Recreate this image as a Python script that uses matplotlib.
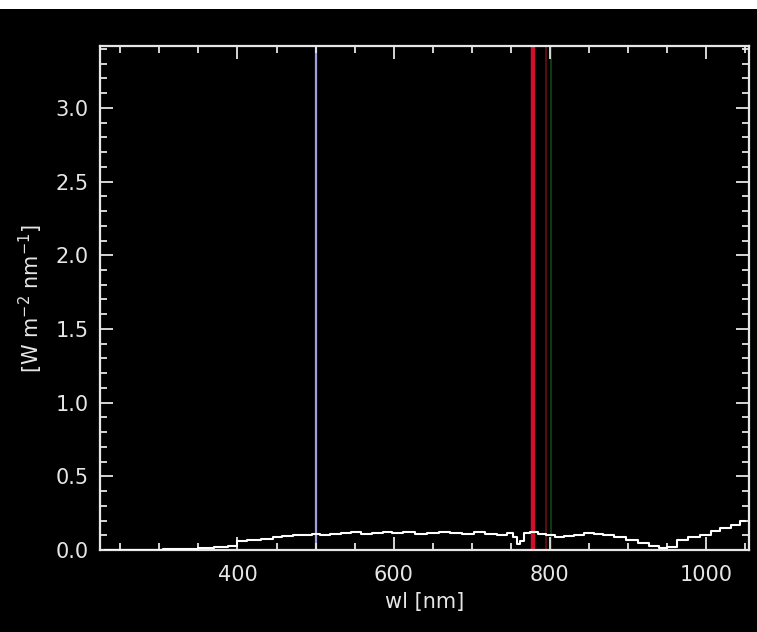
import matplotlib
matplotlib.use("Agg")
import matplotlib.pyplot as plt
from matplotlib.ticker import MultipleLocator
from matplotlib.patches import Rectangle

# Spectrum samples: wavelength [nm] and spectral irradiance [W m^-2 nm^-1]
wavelength = [230, 260, 290, 320, 340, 360, 380, 395, 405, 420, 440, 450, 465,
              478, 490, 500, 512, 525, 540, 552, 565, 580, 592, 605, 620, 635,
              650, 665, 680, 695, 710, 725, 740, 750, 756, 760, 764, 770, 780,
              790, 800, 812, 825, 838, 850, 862, 875, 890, 905, 920, 935, 945,
              955, 970, 985, 1000, 1012, 1025, 1038, 1050]
irradiance = [0.0, 0.0, 0.002, 0.005, 0.01, 0.015, 0.02, 0.03, 0.06, 0.065,
              0.075, 0.09, 0.095, 0.10, 0.105, 0.11, 0.105, 0.11, 0.115, 0.12,
              0.11, 0.115, 0.12, 0.115, 0.12, 0.11, 0.115, 0.12, 0.115, 0.11,
              0.12, 0.11, 0.105, 0.115, 0.09, 0.04, 0.06, 0.115, 0.12, 0.11,
              0.10, 0.09, 0.095, 0.105, 0.115, 0.11, 0.105, 0.085, 0.07, 0.05,
              0.03, 0.015, 0.02, 0.07, 0.09, 0.10, 0.13, 0.15, 0.17, 0.20]

# Marker wavelengths and their colours
marker_wl = [500, 778, 795, 802]
marker_colors = ["#a0a0e0", "#d0102a", "#5a0a14", "#0a3a14"]
marker_widths = [1.6, 3.2, 1.5, 1.5]

x_ticks = [400, 600, 800, 1000]
y_ticks = [0.0, 0.5, 1.0, 1.5, 2.0, 2.5, 3.0]

W, H = 757, 632
fig = plt.figure(figsize=(W / 100, H / 100), dpi=100, facecolor="black")
ax = fig.add_axes([100 / W, (H - 550) / H, 649 / W, 504 / H], facecolor="black")

# white strip along the top edge
fig.patches.append(Rectangle((0, (H - 9) / H), 1, 9 / H, transform=fig.transFigure,
                             facecolor="white", edgecolor="none", zorder=5))

for w, c, lw in zip(marker_wl, marker_colors, marker_widths):
    ax.axvline(w, color=c, lw=lw, zorder=1)

ax.plot(wavelength, irradiance, color="white", lw=1.5, drawstyle="steps-mid", zorder=3)

ax.set_xlim(224, 1055)
ax.set_ylim(0, 3.42)
ax.set_xticks(x_ticks)
ax.set_yticks(y_ticks)
ax.set_yticklabels([f"{v:.1f}" for v in y_ticks])
ax.xaxis.set_minor_locator(MultipleLocator(50))
ax.yaxis.set_minor_locator(MultipleLocator(0.1))

fg = "#e6e6e6"
for s in ax.spines.values():
    s.set_color(fg)
    s.set_linewidth(1.6)
ax.tick_params(which="both", direction="in", colors=fg, top=True, right=True,
               labelsize=15, width=1.3)
ax.tick_params(which="major", length=9.5, pad=8)
ax.tick_params(axis="x", which="major", pad=11)
ax.tick_params(which="minor", length=5)

ax.set_xlabel("wl [nm]", color=fg, fontsize=15, labelpad=5)
ax.set_ylabel(r"[W m$^{-2}$ nm$^{-1}$]", color=fg, fontsize=15, labelpad=8)

fig.savefig("out.png", dpi=100, facecolor="black")
